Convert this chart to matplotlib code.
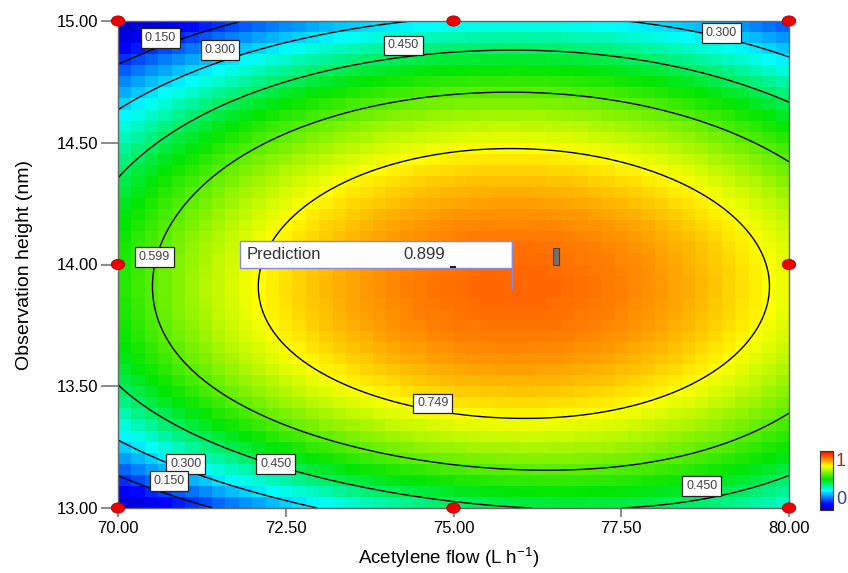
import numpy as np
import matplotlib.pyplot as plt
from matplotlib.colors import LinearSegmentedColormap
from matplotlib.patches import Ellipse, Rectangle

plt.rcParams['font.family'] = ['Liberation Sans', 'DejaVu Sans']
plt.rcParams['mathtext.fontset'] = 'custom'
plt.rcParams['mathtext.rm'] = 'Liberation Sans'
plt.rcParams['mathtext.default'] = 'regular'

# design space
x_range = [70.0, 80.0]
y_range = [13.0, 15.0]
x_ticks = [70.0, 72.5, 75.0, 77.5, 80.0]
y_ticks = [13.0, 13.5, 14.0, 14.5, 15.0]

# fitted response surface, terms dx^px * dy^py around the optimum
x_center = 75.9
y_center = 13.91
pow_x = [0, 2, 0, 0, 0, 1, 1]
pow_y = [0, 0, 2, 3, 4, 3, 4]
coefs = [0.899, -0.01034, -0.478, 0.04, -0.04, -0.0135, 0.0135]

levels = [0.150, 0.300, 0.450, 0.599, 0.749]
level_text = ['0.150', '0.300', '0.450', '0.599', '0.749']

# design points (red dots)
design_x = [70, 70, 70, 75, 75, 80, 80, 80]
design_y = [13, 14, 15, 13, 15, 13, 14, 15]

prediction = 0.899


def response(x, y):
    dx = x - x_center
    dy = y - y_center
    z = np.zeros_like(dx)
    for c, px, py in zip(coefs, pow_x, pow_y):
        z = z + c * dx**px * dy**py
    return z


cmap = LinearSegmentedColormap.from_list('dx', [
    (0.0, (0, 0, 0.8)),
    (0.1, (0, 0, 1)),
    (0.33, (0, 1, 1)),
    (0.52, (0, 0.9, 0)),
    (0.75, (1, 1, 0)),
    (1.0, (1, 0, 0))])

fig = plt.figure(figsize=(8.48, 5.73), dpi=100)
ax = fig.add_axes([118/848, 1-508/573, 671/848, 487/573])

# blocky colour cells
nx, ny = 50, 44
xe = np.linspace(x_range[0], x_range[1], nx+1)
ye = np.linspace(y_range[0], y_range[1], ny+1)
xc, yc = np.meshgrid((xe[:-1]+xe[1:])/2, (ye[:-1]+ye[1:])/2)
mesh = ax.pcolormesh(xe, ye, response(xc, yc), cmap=cmap, vmin=0, vmax=1,
                     shading='flat')

# contour lines
xf, yf = np.meshgrid(np.linspace(70, 80, 400), np.linspace(13, 15, 400))
ax.contour(xf, yf, response(xf, yf), levels=levels, colors='black',
           linewidths=1.0)

# contour labels
label_pos = [(0, 70.63, 14.93), (1, 71.52, 14.88), (2, 74.25, 14.90),
             (1, 78.99, 14.95), (3, 70.54, 14.03), (4, 74.69, 13.43),
             (1, 71.01, 13.18), (0, 70.76, 13.11), (2, 72.35, 13.18),
             (2, 78.70, 13.09)]
for i, lx, ly in label_pos:
    ax.text(lx, ly, level_text[i], fontsize=9, color='#444444',
            ha='center', va='center', zorder=5,
            bbox=dict(boxstyle='square,pad=0.3', facecolor='white',
                      edgecolor='#222222', linewidth=0.9))

# design points
for dxp, dyp in zip(design_x, design_y):
    ax.add_patch(Ellipse((dxp, dyp), 0.2, 0.042, facecolor='#ee0000',
                         edgecolor='#b00000', linewidth=0.6, zorder=6,
                         clip_on=False))

# prediction flag
ax.add_patch(Rectangle((71.82, 13.986), 4.05, 0.111, facecolor='white',
                       edgecolor='#8a8ae0', linewidth=1.0, zorder=7))
ax.plot([75.87, 75.87], [14.097, 13.90], color='#8a8ae0', lw=1.0, zorder=7)
ax.text(71.92, 14.041, 'Prediction', fontsize=12, color='#333333',
        va='center', ha='left', zorder=8)
ax.text(74.56, 14.041, '%.3f' % prediction, fontsize=12, color='#333333',
        va='center', ha='center', zorder=8)
ax.add_patch(Rectangle((76.48, 14.0), 0.09, 0.066, facecolor='#707070',
                       edgecolor='#404040', linewidth=0.8, zorder=7))
ax.plot([74.97, 75.02], [13.99, 13.99], color='#222222', lw=1.5, zorder=7)

ax.set_xlim(x_range)
ax.set_ylim(y_range)
ax.set_xticks(x_ticks)
ax.set_yticks(y_ticks)
ax.set_xticklabels(['%.2f' % v for v in x_ticks])
ax.set_yticklabels(['%.2f' % v for v in y_ticks])
ax.tick_params(axis='x', length=6.5, width=1.2, color='#777777', pad=3,
               labelsize=12)
ax.tick_params(axis='y', length=12, width=1.2, color='#777777', pad=2,
               labelsize=12)
for s in ax.spines.values():
    s.set_color('#666666')
    s.set_linewidth(1.0)

ax.set_xlabel('Acetylene flow (L h$^{-1}$)', fontsize=13.5)
ax.set_ylabel('Observation height (nm)', fontsize=14)
ax.xaxis.set_label_coords(0.493, -0.078)
ax.yaxis.set_label_coords(-0.127, 0.5)

# small colour legend
cax = fig.add_axes([820/848, 1-510/573, 13/848, 59/573])
cb = fig.colorbar(mesh, cax=cax, ticks=[])
cb.outline.set_edgecolor('#333333')
cb.outline.set_linewidth(0.8)
fig.text(836/848, 1-462/573, '1', color='#a0301a', fontsize=13,
         va='center', ha='left')
fig.text(836/848, 1-500/573, '0', color='#304090', fontsize=13,
         va='center', ha='left')

fig.savefig('out.png', dpi=100)
